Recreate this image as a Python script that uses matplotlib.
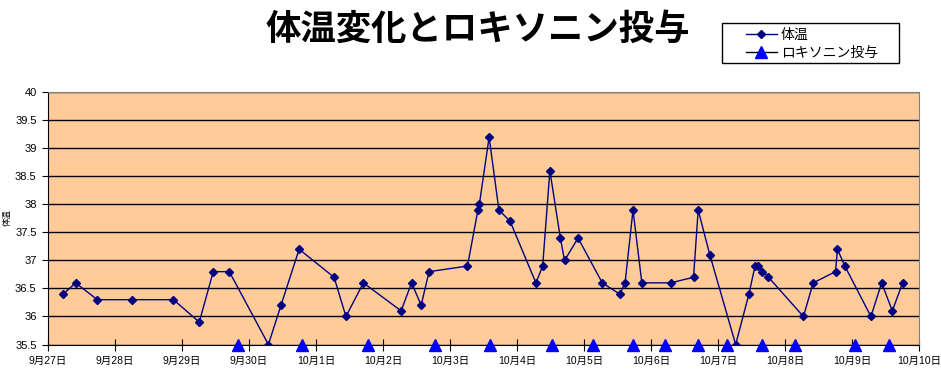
import matplotlib
matplotlib.use("Agg")
import matplotlib.pyplot as plt
from matplotlib.lines import Line2D
from matplotlib.patches import Rectangle
import pandas as pd

plt.rcParams['font.family'] = ['Liberation Sans', 'Noto Sans CJK JP', 'DejaVu Sans']

# 体温の記録
temp_times = [
    "09-27 05:35", "09-27 10:00", "09-27 17:45", "09-28 06:00", "09-28 21:00",
    "09-29 06:15", "09-29 11:15", "09-29 17:00", "09-30 07:00", "09-30 11:30",
    "09-30 18:00", "10-01 06:30", "10-01 10:45", "10-01 17:00", "10-02 06:30",
    "10-02 10:15", "10-02 13:40", "10-02 16:30", "10-03 06:15", "10-03 10:00",
    "10-03 10:30", "10-03 14:00", "10-03 17:30", "10-03 21:30", "10-04 06:45",
    "10-04 09:10", "10-04 11:45", "10-04 15:30", "10-04 17:00", "10-04 21:50",
    "10-05 06:30", "10-05 12:45", "10-05 14:40", "10-05 17:30", "10-05 20:40",
    "10-06 07:00", "10-06 15:10", "10-06 16:50", "10-06 21:00", "10-07 06:15",
    "10-07 11:00", "10-07 13:10", "10-07 14:10", "10-07 15:50", "10-07 18:00",
    "10-08 06:30", "10-08 10:00", "10-08 18:00", "10-08 18:40", "10-08 21:20",
    "10-09 06:40", "10-09 10:30", "10-09 14:20", "10-09 18:00",
]
temps = [
    36.4, 36.6, 36.3, 36.3, 36.3,
    35.9, 36.8, 36.8, 35.5, 36.2,
    37.2, 36.7, 36.0, 36.6, 36.1,
    36.6, 36.2, 36.8, 36.9, 37.9,
    38.0, 39.2, 37.9, 37.7, 36.6,
    36.9, 38.6, 37.4, 37.0, 37.4,
    36.6, 36.4, 36.6, 37.9, 36.6,
    36.6, 36.7, 37.9, 37.1, 35.5,
    36.4, 36.9, 36.9, 36.8, 36.7,
    36.0, 36.6, 36.8, 37.2, 36.9,
    36.0, 36.6, 36.1, 36.6,
]

# ロキソニン投与の時刻
loxonin_times = [
    "09-29 20:10", "09-30 19:10", "10-01 18:40", "10-02 18:40", "10-03 14:25",
    "10-04 12:30", "10-05 03:10", "10-05 17:30", "10-06 04:50", "10-06 16:50",
    "10-07 03:10", "10-07 15:35", "10-08 03:20", "10-09 01:00", "10-09 13:00",
]
loxonin_level = [35.5] * len(loxonin_times)

def to_dt(ts):
    return pd.to_datetime(["2008-" + t for t in ts])

t_temp = to_dt(temp_times)
t_lox = to_dt(loxonin_times)

W, H = 941, 378
fig = plt.figure(figsize=(W / 100, H / 100), dpi=100)
ax = fig.add_axes([0.0507, 0.0886, 0.9263, 0.6672])
ax.set_facecolor("#FFCC99")

ax.plot(t_temp, temps, color="#000080", lw=1, marker="D", markersize=4.5, zorder=3)
ax.plot(t_lox, loxonin_level, ls="none", marker="^", color="#0000FF",
        markersize=9, clip_on=False, zorder=4)

ax.set_ylim(35.5, 40)
ax.set_yticks([35.5 + 0.5 * i for i in range(10)])
ax.set_yticklabels(["35.5", "36", "36.5", "37", "37.5", "38", "38.5", "39", "39.5", "40"])
ax.yaxis.grid(True, color="black", lw=1)
ax.set_axisbelow(True)

ax.set_xlim(pd.Timestamp("2008-09-27"), pd.Timestamp("2008-10-10"))
days = pd.date_range("2008-09-27", "2008-10-10", freq="D")
ax.set_xticks(days)
ax.set_xticklabels([f"{d.month}月{d.day}日" for d in days])

ax.tick_params(axis="x", direction="inout", length=8, labelsize=7.5, pad=4)
ax.tick_params(axis="y", direction="out", length=4, labelsize=8, pad=4)

for side in ["top", "right"]:
    ax.spines[side].set_color("#808080")
for side in ["left", "bottom"]:
    ax.spines[side].set_color("black")

fig.text(7 / W, 1 - 218 / H, "体温", rotation=90, ha="center", va="center",
         fontsize=6, family=['Noto Sans CJK JP'])

fig.text(0.508, 1 - 29 / H, "体温変化とロキソニン投与", ha="center", va="center",
         fontsize=25.5, fontweight="bold", family=['Noto Sans CJK JP'])

# 凡例
handles = [
    Line2D([], [], color="#000080", lw=1, marker="D", markersize=4.5),
    Line2D([], [], color="black", lw=1, marker="^", markersize=9,
           markerfacecolor="#0000FF", markeredgecolor="#0000FF"),
]
labels = ["体温", "ロキソニン投与"]
fig.add_artist(Rectangle((722 / W, 1 - 63 / H), 177 / W, 40 / H,
                         transform=fig.transFigure, facecolor="white",
                         edgecolor="black", lw=1))
fig.legend(handles, labels, loc="upper left",
           bbox_to_anchor=(746 / W, 1 - 28 / H), frameon=False,
           borderpad=0, borderaxespad=0, handlelength=2.2, handletextpad=0.3,
           labelspacing=0.3, prop={'family': ['Noto Sans CJK JP'], 'size': 10})

fig.savefig("out.png", dpi=100)
